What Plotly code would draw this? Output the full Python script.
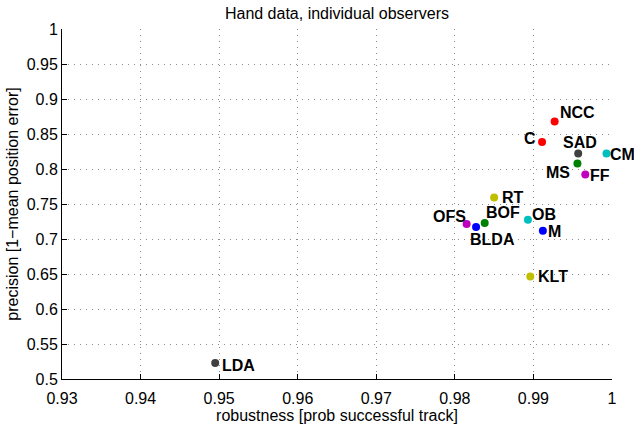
import plotly.graph_objects as go

# ---- data ----
methods = ["M", "BOF", "NCC", "OB", "OFS", "RT", "SAD",
           "BLDA", "MS", "C", "CM", "FF", "KLT", "LDA"]
robustness = [0.9912, 0.9838, 0.9927, 0.9893, 0.9815, 0.9850, 0.9957,
              0.9827, 0.9956, 0.9911, 0.9993, 0.9966, 0.9896, 0.9495]
precision = [0.7119, 0.7229, 0.8680, 0.7276, 0.7214, 0.7594, 0.8220,
             0.7171, 0.8080, 0.8386, 0.8223, 0.7923, 0.6466, 0.5230]

x_tickvals = [0.93, 0.94, 0.95, 0.96, 0.97, 0.98, 0.99, 1.0]
x_ticktext = ["0.93", "0.94", "0.95", "0.96", "0.97", "0.98", "0.99", "1"]
y_tickvals = [0.5, 0.55, 0.6, 0.65, 0.7, 0.75, 0.8, 0.85, 0.9, 0.95, 1.0]
y_ticktext = ["0.5", "0.55", "0.6", "0.65", "0.7", "0.75", "0.8", "0.85", "0.9", "0.95", "1"]

# ---- style ----
color_order = ["#0000ff", "#008000", "#ff0000", "#00bfbf",
               "#bf00bf", "#bfbf00", "#404040"]
colors = [color_order[i % len(color_order)] for i in range(len(methods))]

# label placement (anchor, xshift px, yshift px)
label_pos = {
    "NCC": ("left", 4, 9), "C": ("right", -5, 3), "SAD": ("center", 2, 11),
    "CM": ("left", 2, -1), "MS": ("right", -6, -9), "FF": ("left", 4, -1),
    "RT": ("left", 7, 0), "OB": ("left", 3, 5), "M": ("left", 4, -1),
    "OFS": ("right", 0, 8), "BOF": ("left", 0, 10), "BLDA": ("left", -7, -12),
    "KLT": ("left", 7, 0), "LDA": ("left", 6, -3),
}

FONT = "Liberation Sans, Arial, Helvetica, sans-serif"

fig = go.Figure()
fig.add_trace(go.Scatter(
    x=robustness, y=precision, mode="markers",
    marker=dict(size=8, color=colors, line=dict(width=0)),
    text=methods, hoverinfo="text+x+y", showlegend=False,
))

for name, xv, yv in zip(methods, robustness, precision):
    anchor, dx, dy = label_pos[name]
    fig.add_annotation(
        x=xv, y=yv, xref="x", yref="y", text=f"<b>{name}</b>",
        showarrow=False, xanchor=anchor, yanchor="middle",
        xshift=dx, yshift=dy, borderpad=0,
        font=dict(family=FONT, size=16, color="black"),
    )

axis_common = dict(
    showline=True, linecolor="black", linewidth=1, mirror=False,
    ticks="inside", ticklen=5, tickcolor="black", tickwidth=1,
    showgrid=True, gridcolor="#8c8c8c", gridwidth=1, griddash="1px,5px",
    zeroline=False, tickfont=dict(family=FONT, size=16, color="black"),
    automargin=False,
)

fig.update_layout(
    width=634, height=424,
    margin=dict(l=62, r=22, t=29, b=45),
    paper_bgcolor="white", plot_bgcolor="white",
    font=dict(family=FONT, size=16, color="black"),
    title=dict(text="Hand data, individual observers", x=0.5, xref="paper",
               y=1 - 13 / 424, yref="container", yanchor="middle",
               font=dict(family=FONT, size=16, color="black")),
    xaxis=dict(range=[0.93, 1.0], tickvals=x_tickvals, ticktext=x_ticktext,
               ticklabelstandoff=5,
               title=dict(text="robustness [prob successful track]", standoff=0,
                          font=dict(family=FONT, size=16)),
               **axis_common),
    yaxis=dict(range=[0.5, 1.0], tickvals=y_tickvals, ticktext=y_ticktext,
               title=dict(text="precision [1−mean position error]", standoff=4,
                          font=dict(family=FONT, size=16)),
               **axis_common),
)

fig.write_html("out.html")
